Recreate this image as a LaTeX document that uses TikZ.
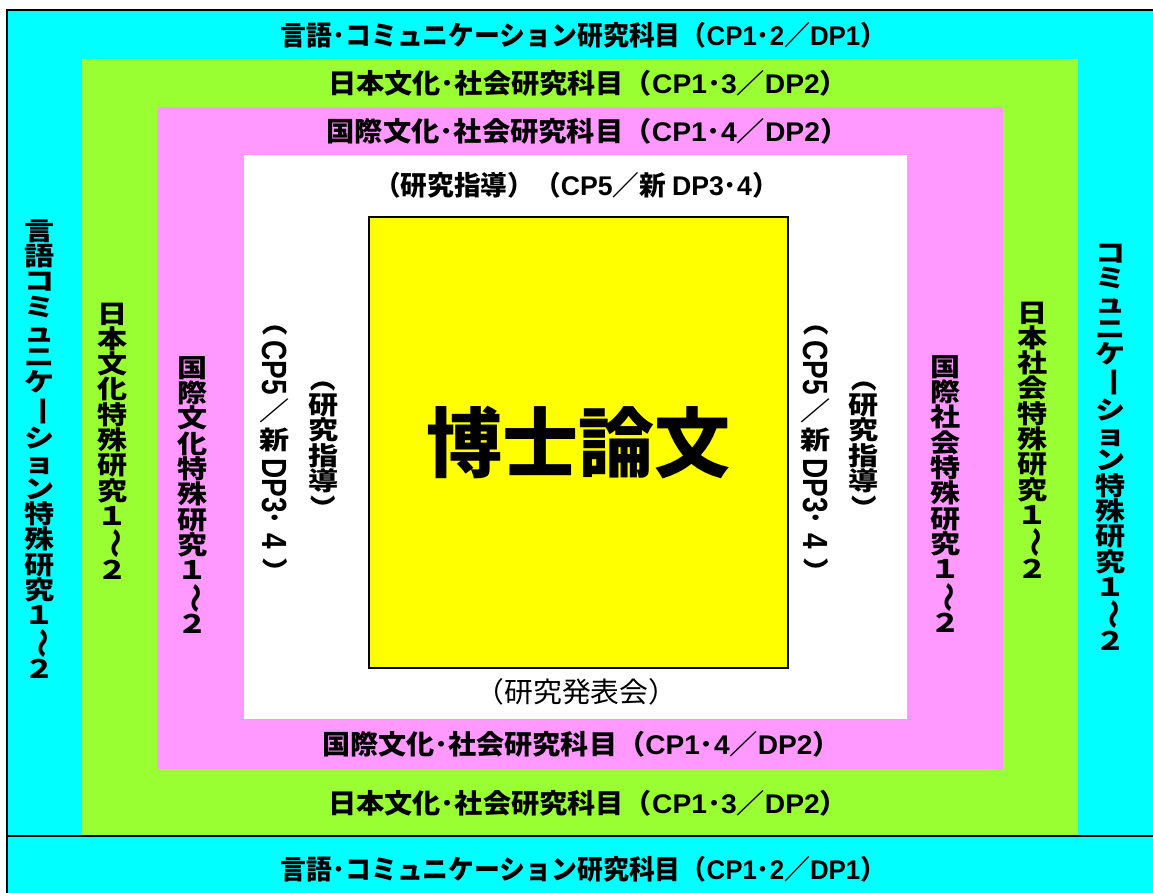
\documentclass[tikz,border=0pt]{standalone}
\usepackage{fontspec}
\setmainfont{Noto Sans CJK JP}
\newfontfamily\latfont{Liberation Sans}
\newfontfamily\vfont{Noto Sans CJK JP}[FakeStretch=1.18]
\usepackage{graphicx}
\definecolor{cy}{HTML}{00FFFF}
\definecolor{gr}{HTML}{99FF33}
\definecolor{pk}{HTML}{FF99FF}
\definecolor{yl}{HTML}{FFFF00}
\newcommand\rt[1]{\rotatebox[origin=c]{-90}{#1}}
\newcommand\latn[1]{{\latfont #1}}
% rotated, widened Latin run for vertical columns
\newcommand\vlat[1]{\rt{\scalebox{1}[1.25]{\fontsize{28}{30}\selectfont\latn{#1}}}}
\newcommand\hs[2]{\scalebox{#1}[1]{#2}}
\begin{document}
\begin{tikzpicture}[x=1pt,y=-1pt,
  htext/.style={inner sep=0pt, font=\bfseries\fontsize{27}{30}\selectfont},
  hlight/.style={inner sep=0pt, font=\fontsize{28}{30}\selectfont},
  vtext/.style={inner sep=0pt, align=center, font=\vfont\bfseries\fontsize{25.5}{25.3}\selectfont},
  border/.style={line width=2pt, draw=black}]
\useasboundingbox (0,0) rectangle (1153,893);
% bands
\fill[cy] (7,10) rectangle (1153,893);
\fill[gr] (82,59) rectangle (1078,836);
\fill[pk] (157,107) rectangle (1003,769);
\fill[white] (244,155) rectangle (907,719);
\draw[border] (1153,10) -- (7,10) -- (7,893);
\draw[border] (7,836) -- (1153,836);
% thesis box
\node[border, fill=yl, minimum width=419pt, minimum height=451pt, inner sep=0pt,
      font=\bfseries\fontsize{76}{80}\selectfont] (thesis) at (578.5,442.5) {博士論文};
% horizontal labels
\node[htext] (t1) at (583.5,35) {\hs{0.957}{言語･コミュニケーション研究科目（\latn{CP1}･\latn{2}／\latn{DP1}）}};
\node[htext] (t2) at (588,83) {\hs{1.044}{日本文化･社会研究科目（\latn{CP1}･\latn{3}／\latn{DP2}）}};
\node[htext] (t3) at (587.4,131.5) {\hs{1.048}{国際文化･社会研究科目（\latn{CP1}･\latn{4}／\latn{DP2}）}};
\node[htext] (t4) at (576.5,185.5) {\hs{0.987}{（研究指導）（\latn{CP5}／新 \latn{DP3}･\latn{4}）}};
\node[hlight] (b1) at (576.5,692) {\hs{1.03}{（研究発表会）}};
\node[htext] (b2) at (581.3,744) {\hs{1.041}{国際文化･社会研究科目（\latn{CP1}･\latn{4}／\latn{DP2}）}};
\node[htext] (b3) at (588,803) {\hs{1.044}{日本文化･社会研究科目（\latn{CP1}･\latn{3}／\latn{DP2}）}};
\node[htext] (b4) at (583.5,869) {\hs{0.957}{言語･コミュニケーション研究科目（\latn{CP1}･\latn{2}／\latn{DP1}）}};
% vertical labels, left
\node[vtext] (lc) at (40,449) {言\\語\\コ\\ミ\\ュ\\ニ\\ケ\\\rt{ー}\\シ\\ョ\\ン\\特\\殊\\研\\究\\１\\\rt{～}\\２};
\node[vtext] (lg) at (113,441) {日\\本\\文\\化\\特\\殊\\研\\究\\１\\\rt{～}\\２};
\node[vtext] (lp) at (193,495) {国\\際\\文\\化\\特\\殊\\研\\究\\１\\\rt{～}\\２};
\node[vtext] (lw1) at (275,447) {\rt{（}\\[3pt]\vlat{CP5}\\[3pt]／\\[3pt]新\\[6pt]\vlat{DP3}\\[1pt]･\\[1pt]\vlat{4}\\[3pt]\rt{）}};
\node[vtext] (lw2) at (323.5,443.5) {\rt{（}\\研\\究\\指\\導\\\rt{）}};
% vertical labels, right
\node[vtext] (rw1) at (816,447) {\rt{（}\\[3pt]\vlat{CP5}\\[3pt]／\\[3pt]新\\[6pt]\vlat{DP3}\\[1pt]･\\[1pt]\vlat{4}\\[3pt]\rt{）}};
\node[vtext] (rw2) at (864,443.5) {\rt{（}\\研\\究\\指\\導\\\rt{）}};
\node[vtext] (rp) at (946,494) {国\\際\\社\\会\\特\\殊\\研\\究\\１\\\rt{～}\\２};
\node[vtext] (rg) at (1033,440) {日\\本\\社\\会\\特\\殊\\研\\究\\１\\\rt{～}\\２};
\node[vtext] (rc) at (1111,447) {コ\\ミ\\ュ\\ニ\\ケ\\\rt{ー}\\シ\\ョ\\ン\\特\\殊\\研\\究\\１\\\rt{～}\\２};
\end{tikzpicture}
\end{document}
